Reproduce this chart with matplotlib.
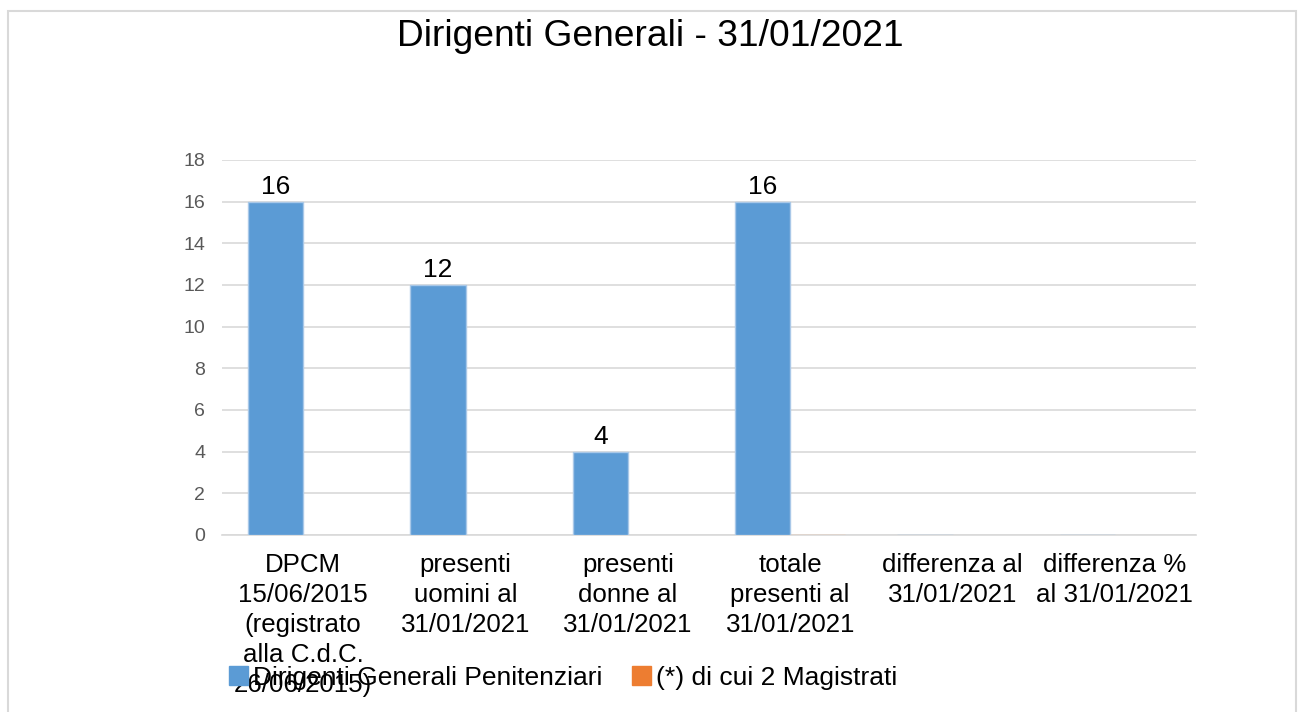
import matplotlib
matplotlib.use("Agg")
import matplotlib.pyplot as plt
import matplotlib.patches as mpatches
import numpy as np

plt.rcParams['font.family'] = ['Liberation Sans', 'DejaVu Sans']

categories = ["DPCM\n15/06/2015\n(registrato\nalla C.d.C.\n26/06/2015)",
              "presenti\nuomini al\n31/01/2021",
              "presenti\ndonne al\n31/01/2021",
              "totale\npresenti al\n31/01/2021",
              "differenza al\n31/01/2021",
              "differenza %\nal 31/01/2021"]
dirigenti = [16, 12, 4, 16, 0, 0]
magistrati = [np.nan, np.nan, np.nan, 0, np.nan, np.nan]
series_names = ["Dirigenti Generali Penitenziari", "(*) di cui 2 Magistrati"]

blue = '#5b9bd5'
orange = '#ed7d31'
grid_c = '#d9d9d9'

fig = plt.figure(figsize=(13, 7.12), dpi=100)
ax = fig.add_axes([0.1708, 0.2486, 0.7492, 0.5267])

x = np.arange(len(categories))
w = 0.34
b1 = ax.bar(x - w / 2, dirigenti, w, color=blue, edgecolor='#a9c8e8', linewidth=1, zorder=3)
b2 = ax.bar(x + w / 2, magistrati, w, color=orange, edgecolor='#f4c3a0', linewidth=1, zorder=3)

for rect, v in zip(b1, dirigenti):
    if v > 0:
        ax.annotate(str(v), (rect.get_x() + rect.get_width() / 2, v),
                    xytext=(0, 2), textcoords='offset points',
                    ha='center', va='bottom', fontsize=19)

ax.set_xlim(-0.5, len(categories) - 0.5)
ax.set_ylim(0, 18)
ax.set_yticks(range(0, 19, 2))
ax.set_xticks(x)
ax.set_xticklabels(categories, fontsize=18.6, va='top', linespacing=1.32)
ax.tick_params(axis='x', length=0, pad=13)
ax.tick_params(axis='y', length=0, pad=12, labelsize=14, labelcolor='#595959')
ax.grid(axis='y', color=grid_c, linewidth=1.2, zorder=0)
for s in ['top', 'right', 'left']:
    ax.spines[s].set_visible(False)
ax.spines['bottom'].set_color(grid_c)
ax.spines['bottom'].set_linewidth(1.2)
ax.spines['bottom'].set_zorder(1)

fig.text(0.5, 1 - 36 / 712, "Dirigenti Generali - 31/01/2021", ha='center', va='center', fontsize=26.7)

handles = [mpatches.Patch(color=blue, label=series_names[0]),
           mpatches.Patch(color=orange, label=series_names[1])]
fig.legend(handles=handles, loc='center left', bbox_to_anchor=(229 / 1300, 1 - 678 / 712),
           ncol=2, frameon=False, fontsize=19, handlelength=0.72, handleheight=0.72,
           handletextpad=0.2, columnspacing=1.1, borderpad=0, borderaxespad=0)

border = mpatches.Rectangle((8 / 1300, -0.05), 1288 / 1300, 1 - 10.5 / 712 + 0.05,
                            transform=fig.transFigure, fill=False, edgecolor=grid_c, linewidth=1.5)
fig.patches.append(border)

fig.savefig("out.png", dpi=100)
